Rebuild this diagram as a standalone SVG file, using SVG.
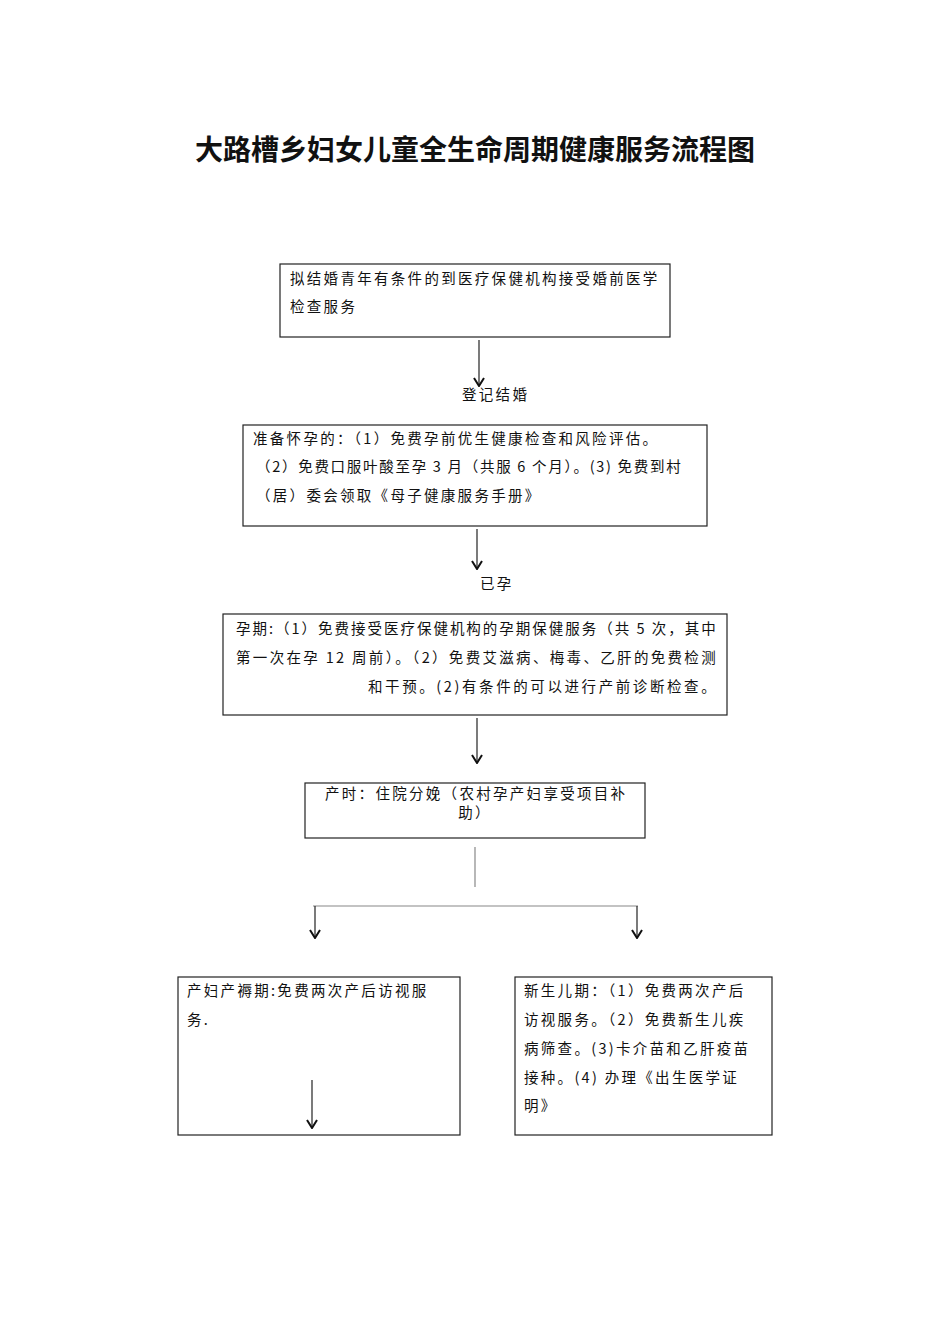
<svg xmlns="http://www.w3.org/2000/svg" width="950" height="1344" viewBox="0 0 950 1344">
<style>
text{font-family:"Noto Sans CJK SC","Liberation Serif",sans-serif;font-size:14.5px;fill:#111;letter-spacing:2.3px}
.t{font-size:28px;font-weight:bold;letter-spacing:0}
rect{fill:#fff;stroke:#222;stroke-width:1.2}
line{stroke:#222;stroke-width:1.2}
.g{stroke:#888}
</style>
<defs><marker id="a" viewBox="0 0 10 12" refX="9" refY="6" markerWidth="10" markerHeight="12" markerUnits="userSpaceOnUse" orient="auto"><path d="M1 1 L9 6 L1 11" fill="none" stroke="#111" stroke-width="2"/></marker></defs>
<text class="t" x="475" y="160" text-anchor="middle">大路槽乡妇女儿童全生命周期健康服务流程图</text>
<g id="n1"><rect x="280" y="264" width="390" height="73"/><text x="290" y="284">拟结婚青年有条件的到医疗保健机构接受婚前医学</text><text x="290" y="312">检查服务</text></g>
<g id="n2"><rect x="243" y="425" width="464" height="101"/><text x="253" y="444">准备怀孕的：（1）免费孕前优生健康检查和风险评估。</text><text x="256" y="472" textLength="427" lengthAdjust="spacing">（2）免费口服叶酸至孕 3 月（共服 6 个月）。(3) 免费到村</text><text x="256" y="501">（居）委会领取《母子健康服务手册》</text></g>
<g id="n3"><rect x="223" y="614" width="504" height="101"/><text x="236" y="634" textLength="482" lengthAdjust="spacing">孕期:（1）免费接受医疗保健机构的孕期保健服务（共 5 次，其中</text><text x="236" y="663" textLength="482" lengthAdjust="spacing">第一次在孕 12 周前）。（2）免费艾滋病、梅毒、乙肝的免费检测</text><text x="368" y="692" textLength="350" lengthAdjust="spacing">和干预。(2)有条件的可以进行产前诊断检查。</text></g>
<g id="n4"><rect x="305" y="783" width="340" height="55"/><text x="325" y="799">产时：住院分娩（农村孕产妇享受项目补</text><text x="475" y="818" text-anchor="middle">助）</text></g>
<g id="n5"><rect x="178" y="977" width="282" height="158"/><text x="187" y="996">产妇产褥期:免费两次产后访视服</text><text x="187" y="1025">务.</text></g>
<g id="n6"><rect x="515" y="977" width="257" height="158"/><text x="524" y="996">新生儿期：（1）免费两次产后</text><text x="524" y="1025">访视服务。（2）免费新生儿疾</text><text x="524" y="1054">病筛查。(3)卡介苗和乙肝疫苗</text><text x="524" y="1083">接种。(4) 办理《出生医学证</text><text x="524" y="1111">明》</text></g>
<text x="462" y="400">登记结婚</text>
<text x="480" y="589">已孕</text>
<g id="connectors">
<line x1="479" y1="340" x2="479" y2="386" marker-end="url(#a)"/>
<line x1="477" y1="529" x2="477" y2="569" marker-end="url(#a)"/>
<line x1="477" y1="718" x2="477" y2="763" marker-end="url(#a)"/>
<line class="g" x1="475" y1="847" x2="475" y2="887"/>
<line class="g" x1="313" y1="906" x2="638" y2="906"/>
<line x1="315" y1="906" x2="315" y2="938" marker-end="url(#a)"/>
<line x1="637" y1="906" x2="637" y2="938" marker-end="url(#a)"/>
<line x1="312" y1="1080" x2="312" y2="1128" marker-end="url(#a)"/>
</g>
</svg>
